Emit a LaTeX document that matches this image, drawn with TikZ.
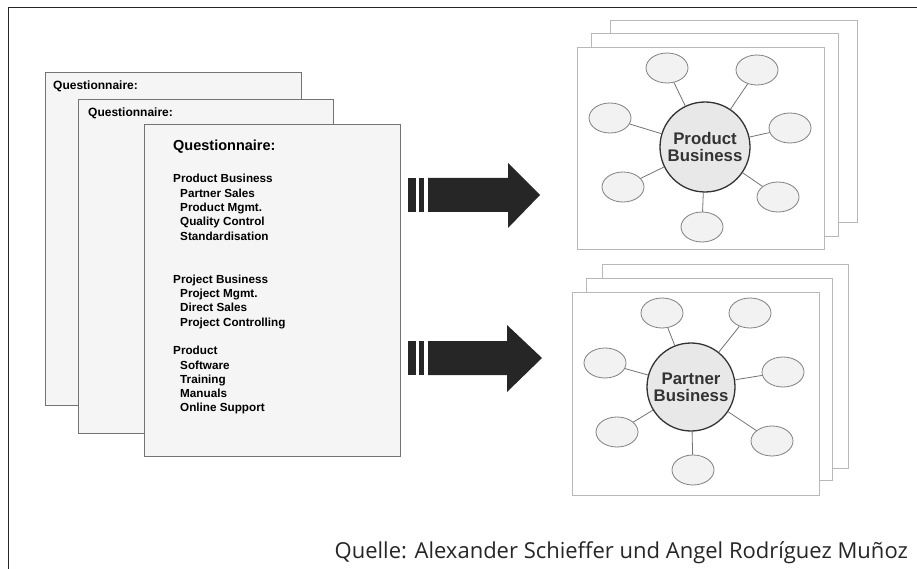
\documentclass[tikz,border=0pt]{standalone}
\usepackage{fontspec}
\setmainfont{Liberation Sans}
\newfontfamily\captionfont{Open Sans}
\usetikzlibrary{shapes.geometric}

\begin{document}
\begin{tikzpicture}[x=1pt,y=-1pt,
  frameline/.style={draw=black!85, line width=1pt},
  sheet/.style={draw=black!55, fill=black!4, line width=0.9pt},
  mapsheet/.style={draw=black!28, fill=white, line width=0.8pt},
  qhead/.style={anchor=base west, inner sep=0pt, font=\bfseries\fontsize{12}{14}\selectfont},
  qline/.style={anchor=base west, inner sep=0pt, font=\bfseries\fontsize{11.7}{14}\selectfont},
  hub/.style={circle, draw=black!80, line width=1.3pt, fill=black!9, minimum size=90pt,
    inner sep=0pt, align=center, text=black!80,
    font=\bfseries\fontsize{16.8}{18}\selectfont},
  leaf/.style={ellipse, draw=black!50, fill=black!5, line width=0.8pt,
    minimum width=42pt, minimum height=30pt, inner sep=0pt},
  spoke/.style={draw=black!55, line width=0.8pt},
  bigarrow/.style={fill=black!85, draw=none}
]
\useasboundingbox (0,0) rectangle (917,569);

% outer frame (left and top edges only)
\draw[frameline] (8,569) -- (8,8) -- (917,8);

% stacked questionnaire sheets
\draw[sheet] (45,72) rectangle (301,405);
\node[qhead] (qa) at (53,90) {Questionnaire:};
\draw[sheet] (78,99) rectangle (333,433);
\node[qhead] (qb) at (88,117) {Questionnaire:};
\draw[sheet] (144,124) rectangle (400,456);
\node[qhead, font=\bfseries\fontsize{14.5}{16}\selectfont] (qc) at (173,151) {Questionnaire:};

% contents of the front sheet
\foreach \txt/\row/\ind [count=\i] in {
    Product Business/0/0, Partner Sales/1/7, Product Mgmt./2/7,
    Quality Control/3/7, Standardisation/4/7,
    Project Business/7/0, Project Mgmt./8/7, Direct Sales/9/7,
    Project Controlling/10/7,
    Product/12/0, Software/13/7, Training/14/7, Manuals/15/7,
    Online Support/16/7}
  \node[qline] (item\i) at (173+\ind, 183+14.31*\row) {\txt};

% block arrows
\fill[bigarrow] (408,178) rectangle (416,212);
\fill[bigarrow] (419,178) rectangle (424,212);
\fill[bigarrow] (428,178) -- (508,178) -- (508,163) -- (540,195)
  -- (508,228) -- (508,212) -- (428,212) -- cycle;

\fill[bigarrow] (408,341) rectangle (416,375);
\fill[bigarrow] (419,341) rectangle (424,375);
\fill[bigarrow] (428,341) -- (507,341) -- (507,325) -- (542,358)
  -- (507,392) -- (507,375) -- (428,375) -- cycle;

% product business map
\draw[mapsheet] (610,20) rectangle (857,222);
\draw[mapsheet] (591,33) rectangle (838,236);
\draw[mapsheet] (577,47) rectangle (824,249);
\node[hub] (pb) at (705,147) {Product\\[-1pt]Business};
\node[leaf] (pb1) at (667,68) {};
\node[leaf] (pb2) at (757,70) {};
\node[leaf] (pb3) at (610,118) {};
\node[leaf] (pb4) at (790,128) {};
\node[leaf] (pb5) at (623,187) {};
\node[leaf] (pb6) at (778,197) {};
\node[leaf] (pb7) at (702,227) {};
\foreach \k in {1,...,7}
  \draw[spoke] (pb) -- (pb\k);

% partner business map
\draw[mapsheet] (602,264) rectangle (848,468);
\draw[mapsheet] (586,278) rectangle (832,480);
\draw[mapsheet] (572,292) rectangle (819,495);
\node[hub, minimum size=88pt] (ptb) at (691,387) {Partner\\[-1pt]Business};
\node[leaf] (ptb1) at (662,313) {};
\node[leaf] (ptb2) at (750,313) {};
\node[leaf] (ptb3) at (605,363) {};
\node[leaf] (ptb4) at (783,372) {};
\node[leaf] (ptb5) at (617,432) {};
\node[leaf] (ptb6) at (772,441) {};
\node[leaf] (ptb7) at (693,470) {};
\foreach \k in {1,...,7}
  \draw[spoke] (ptb) -- (ptb\k);

% source line
\node[anchor=base east, inner sep=0pt, text=black!85,
  font=\captionfont\fontsize{22}{26}\selectfont] (src) at (908,558)
  {Quelle: Alexander Schieffer und Angel Rodríguez Muñoz};
\end{tikzpicture}
\end{document}
